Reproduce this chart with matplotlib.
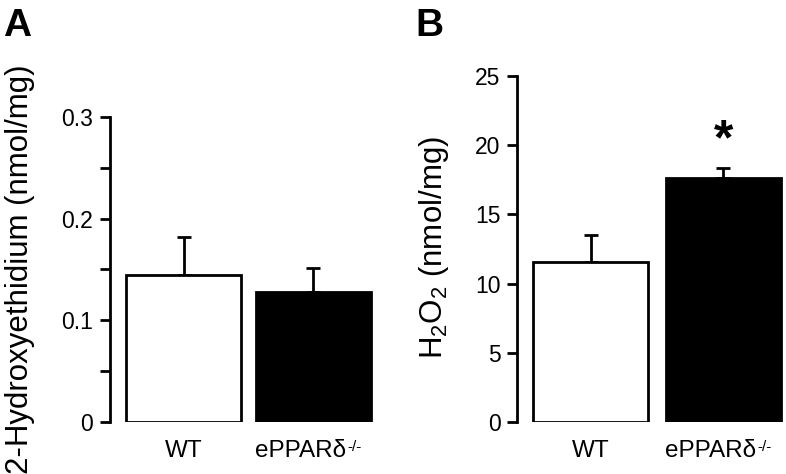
import matplotlib
matplotlib.use("Agg")
import matplotlib.pyplot as plt

plt.rcParams['font.family'] = ['Liberation Sans', 'DejaVu Sans']
plt.rcParams['mathtext.fontset'] = 'custom'
plt.rcParams['mathtext.rm'] = 'Liberation Sans'
plt.rcParams['mathtext.it'] = 'Liberation Sans'
plt.rcParams['mathtext.bf'] = 'Liberation Sans:bold'

groups = ['WT', 'ePPARδ']
group_sup = ['', '-/-']
colors = ['white', 'black']

# panel A: 2-hydroxyethidium
hoe_mean = [0.145, 0.128]
hoe_err = [0.037, 0.023]

# panel B: H2O2
h2o2_mean = [11.55, 17.6]
h2o2_err = [1.95, 0.75]

fig = plt.figure(figsize=(7.86, 4.74), dpi=100)
axA = fig.add_axes([0.140, 0.1097, 0.341, 0.6435])
axB = fig.add_axes([0.658, 0.1097, 0.338, 0.730])

lw = 2.0


def draw_panel(ax, means, errs, width):
    x = list(range(len(means)))
    for i in x:
        ax.bar(i, means[i], width, color=colors[i], edgecolor='black',
               linewidth=lw, zorder=2)
        ax.errorbar(i, means[i], yerr=[[0], [errs[i]]], fmt='none',
                    ecolor='black', elinewidth=lw, capsize=5, capthick=lw,
                    zorder=1)
        t = ax.annotate(groups[i], xy=(i, 0), xytext=(0, -25),
                        textcoords='offset points', ha='center',
                        va='baseline', fontsize=17.5, annotation_clip=False)
        if group_sup[i]:
            # shift the main label left so label+superscript stays centred
            t.set_position((-9, -25))
            ax.annotate(group_sup[i], xy=(1.0, 1.0), xycoords=t,
                        xytext=(1, -0.5), textcoords='offset points',
                        ha='left', va='top', fontsize=11)
    for s in ['top', 'right', 'bottom']:
        ax.spines[s].set_visible(False)
    ax.spines['left'].set_linewidth(lw)
    ax.tick_params(axis='y', direction='out', length=7, width=lw,
                   labelsize=16.5, pad=5)
    ax.tick_params(axis='y', which='minor', direction='out', length=7, width=lw)
    ax.set_xticks([])


draw_panel(axA, hoe_mean, hoe_err, 0.885)
axA.set_xlim(-0.567, 1.5)
axA.set_ylim(0, 0.3)
axA.set_yticks([0, 0.1, 0.2, 0.3])
axA.set_yticklabels(['0', '0.1', '0.2', '0.3'])
axA.set_yticks([0.05, 0.15, 0.25], minor=True)

draw_panel(axB, h2o2_mean, h2o2_err, 0.87)
axB.set_xlim(-0.555, 1.45)
axB.set_ylim(0, 25)
axB.set_yticks([0, 5, 10, 15, 20, 25])
axB.text(1, 19.35, '*', fontsize=36, fontweight='bold', ha='center',
         va='baseline')

fig.text(20 / 786, 0.4325, '2-Hydroxyethidium (nmol/mg)', fontsize=22.5,
         rotation=90, ha='center', va='center')
fig.text(434 / 786, 0.477, r'H$_2$O$_2$ (nmol/mg)', fontsize=22.5,
         rotation=90, ha='center', va='center')

fig.text(0.004, 0.924, 'A', fontsize=28, fontweight='bold', va='baseline')
fig.text(0.528, 0.924, 'B', fontsize=28, fontweight='bold', va='baseline')

fig.savefig('out.png', dpi=100)
